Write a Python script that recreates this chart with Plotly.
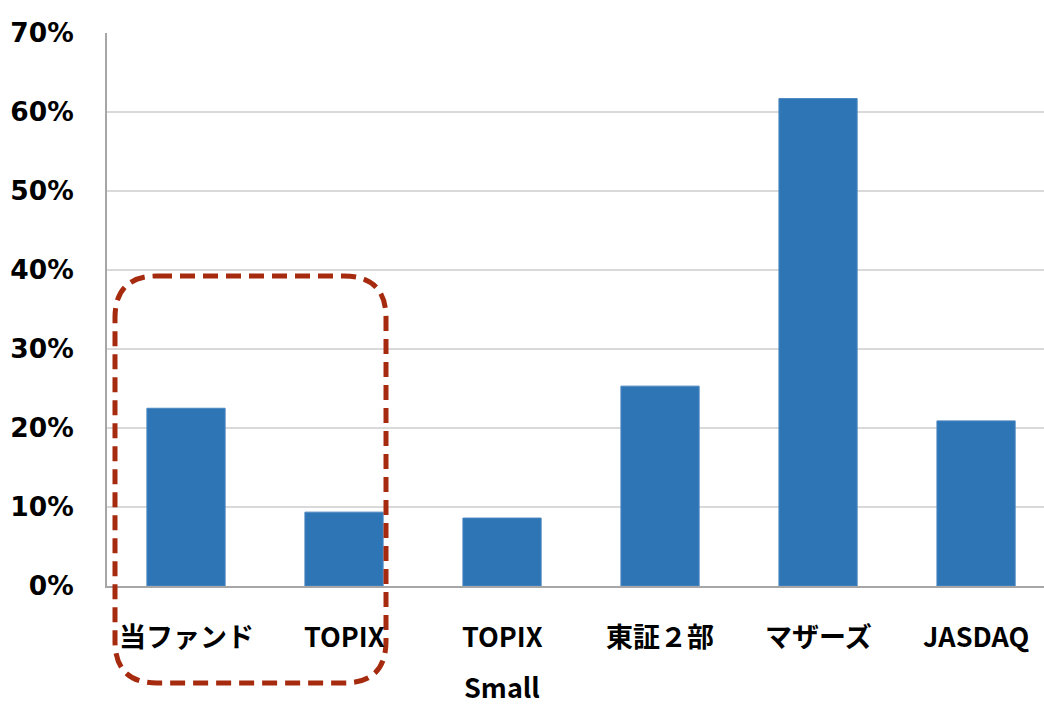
import plotly.graph_objects as go

categories = ["当ファンド", "TOPIX", "TOPIX\nSmall", "東証２部", "マザーズ", "JASDAQ"]
values = [22.5, 9.35, 8.6, 25.3, 61.7, 20.9]
y_ticks = [0, 10, 20, 30, 40, 50, 60, 70]
y_tick_labels = [f"{v}%" for v in y_ticks]

W, H = 1044, 706
L, T, R, B = 107, 33, 0, 120
pw, ph = W - L - R, H - T - B

def px(x):
    return (x - L) / pw

def py(y):
    return (H - B - y) / ph

fig = go.Figure()
fig.add_trace(go.Bar(
    x=list(range(len(categories))), y=values,
    marker=dict(color="#2E75B6", line=dict(color="#4A86C0", width=1)),
    width=0.495,
))

annotations = []
for i, c in enumerate(categories):
    for j, line in enumerate(c.split("\n")):
        annotations.append(dict(
            x=i, y=0, xref="x", yref="paper", text=line, showarrow=False,
            yanchor="middle", xanchor="center", yshift=-49 - 51 * j,
            font=dict(family="Noto Sans CJK JP", size=27, color="#000000", weight="bold"),
        ))

# rounded dashed rectangle
x0, x1, y0, y1, r = 115, 386, 276, 683, 42
path = (
    f"M {px(x0 + r)} {py(y0)} L {px(x1 - r)} {py(y0)} "
    f"Q {px(x1)} {py(y0)} {px(x1)} {py(y0 + r)} "
    f"L {px(x1)} {py(y1 - r)} Q {px(x1)} {py(y1)} {px(x1 - r)} {py(y1)} "
    f"L {px(x0 + r)} {py(y1)} Q {px(x0)} {py(y1)} {px(x0)} {py(y1 - r)} "
    f"L {px(x0)} {py(y0 + r)} Q {px(x0)} {py(y0)} {px(x0 + r)} {py(y0)} Z"
)

fig.update_layout(
    width=W, height=H,
    margin=dict(l=L, r=R, t=T, b=B, pad=0),
    paper_bgcolor="white", plot_bgcolor="white",
    showlegend=False,
    annotations=annotations,
    shapes=[dict(type="path", path=path, xref="paper", yref="paper",
                 line=dict(color="#A52A0E", width=5, dash="15px,8px"),
                 fillcolor="rgba(0,0,0,0)", layer="above")],
    xaxis=dict(range=[-0.5, 5.43], showticklabels=False, showgrid=False,
               showline=True, linecolor="#A6A6A6", linewidth=2, zeroline=False,
               fixedrange=True),
    yaxis=dict(range=[0, 70], tickvals=y_ticks, ticktext=y_tick_labels,
               showgrid=True, gridcolor="#D9D9D9", gridwidth=1.5,
               showline=True, linecolor="#A6A6A6", linewidth=2, zeroline=False,
               ticks="", ticklabelstandoff=26,
               tickfont=dict(family="DejaVu Sans", size=26.5, color="#000000", weight="bold")),
)

fig.write_html("out.html")
